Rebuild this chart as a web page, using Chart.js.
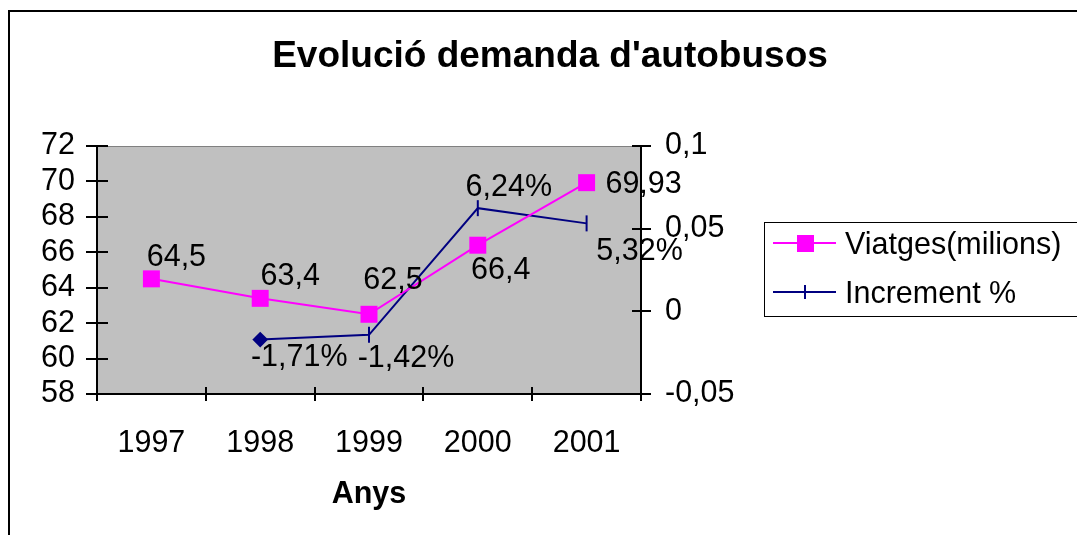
<!DOCTYPE html>
<html>
<head>
<meta charset="utf-8">
<script src="https://cdn.jsdelivr.net/npm/chart.js@4.4.0/dist/chart.umd.min.js"></script>
<style>
  html, body { margin: 0; padding: 0; background: #fff; }
  canvas { display: block; }
</style>
</head>
<body>
<canvas id="chart" width="1077" height="535"></canvas>
<script>
const years = ['1997', '1998', '1999', '2000', '2001'];
const viatges = [64.5, 63.4, 62.5, 66.4, 69.93];
const increment = [null, -0.0171, -0.0142, 0.0624, 0.0532];
const leftTicks = [58, 60, 62, 64, 66, 68, 70, 72];
const rightTicks = [-0.05, 0, 0.05, 0.1];
const rightTickLabels = ['-0,05', '0', '0,05', '0,1'];

const FONT = '"Liberation Sans", Arial, sans-serif';
const FS = 30.5;
const MAGENTA = '#FF00FF';
const NAVY = '#000080';

// label offsets from each point (px)
const viatgesLabelPos = [[25, -21], [30, -22], [24, -34], [23, 25], [57, 2]];
const incrementLabelPos = [null, [39, 18], [37, 24], [31, -21], [53, 28]];

const fmtViatges = v => String(v).replace('.', ',');
const fmtIncrement = v => (v * 100).toFixed(2).replace('.', ',') + '%';

const frame = {
  id: 'frame',
  beforeDraw(chart) {
    const ctx = chart.ctx, ca = chart.chartArea;
    ctx.save();
    ctx.fillStyle = '#fff';
    ctx.fillRect(0, 0, chart.width, chart.height);
    // outer chart border
    ctx.strokeStyle = '#000';
    ctx.lineWidth = 2;
    ctx.beginPath();
    ctx.moveTo(9, chart.height);
    ctx.lineTo(9, 11);
    ctx.lineTo(chart.width, 11);
    ctx.stroke();
    // plot area
    ctx.fillStyle = '#C0C0C0';
    ctx.fillRect(ca.left, ca.top, ca.right - ca.left, ca.bottom - ca.top);
    ctx.strokeStyle = '#808080';
    ctx.lineWidth = 1;
    ctx.strokeRect(ca.left + 0.5, ca.top + 0.5, ca.right - ca.left - 1, ca.bottom - ca.top - 1);
    // title
    ctx.fillStyle = '#000';
    ctx.font = 'bold 37px ' + FONT;
    ctx.textAlign = 'center';
    ctx.textBaseline = 'middle';
    ctx.fillText("Evolució demanda d'autobusos", 550, 57);
    ctx.restore();
  },
  afterDraw(chart) {
    const ctx = chart.ctx, ca = chart.chartArea;
    const x = chart.scales.x, y = chart.scales.y, y1 = chart.scales.y1;
    ctx.save();
    ctx.strokeStyle = '#000';
    ctx.lineWidth = 2;
    ctx.beginPath();
    y.ticks.forEach(t => {
      const py = Math.round(y.getPixelForValue(t.value));
      ctx.moveTo(ca.left - 11, py); ctx.lineTo(ca.left + 11, py);
    });
    y1.ticks.forEach(t => {
      const py = Math.round(y1.getPixelForValue(t.value));
      ctx.moveTo(ca.right - 9, py); ctx.lineTo(ca.right + 10, py);
    });
    for (let i = 0; i <= years.length; i++) {
      const px = Math.round(x.getPixelForValue(i - 0.5));
      ctx.moveTo(px, ca.bottom - 7); ctx.lineTo(px, ca.bottom + 7);
    }
    ctx.stroke();

    // legend
    ctx.lineWidth = 1;
    ctx.strokeRect(764.5, 222.5, 400, 94);
    const ds = chart.data.datasets;
    const rows = [243, 292];
    ctx.font = FS + 'px ' + FONT;
    ctx.textAlign = 'left';
    ctx.textBaseline = 'middle';
    ds.forEach((d, i) => {
      const ly = rows[i];
      ctx.strokeStyle = d.borderColor;
      ctx.lineWidth = 2;
      ctx.beginPath();
      ctx.moveTo(773, ly); ctx.lineTo(836, ly);
      ctx.stroke();
      if (i === 0) {
        ctx.fillStyle = d.borderColor;
        ctx.fillRect(797, ly - 8, 17, 17);
      } else {
        ctx.beginPath();
        ctx.moveTo(805, ly - 7); ctx.lineTo(805, ly + 7);
        ctx.stroke();
      }
      ctx.fillStyle = '#000';
      ctx.fillText(d.label, 845, ly + 3);
    });
    ctx.restore();
  }
};

const dataLabels = {
  id: 'dataLabels',
  afterDatasetsDraw(chart) {
    const ctx = chart.ctx;
    ctx.save();
    ctx.font = FS + 'px ' + FONT;
    ctx.fillStyle = '#000';
    ctx.textAlign = 'center';
    ctx.textBaseline = 'middle';
    const sets = [[viatges, viatgesLabelPos, fmtViatges], [increment, incrementLabelPos, fmtIncrement]];
    sets.forEach(([vals, pos, fmt], di) => {
      const meta = chart.getDatasetMeta(di);
      vals.forEach((v, i) => {
        if (v === null || !pos[i]) return;
        const el = meta.data[i];
        ctx.fillText(fmt(v), el.x + pos[i][0], el.y + pos[i][1]);
      });
    });
    ctx.restore();
  }
};

const tickFont = { family: FONT, size: FS };

new Chart(document.getElementById('chart'), {
  type: 'line',
  data: {
    labels: years,
    datasets: [
      {
        label: 'Viatges(milions)',
        data: viatges,
        yAxisID: 'y',
        borderColor: MAGENTA,
        backgroundColor: MAGENTA,
        borderWidth: 2,
        pointStyle: 'rect',
        pointRadius: 12,
        pointBorderWidth: 0,
        tension: 0
      },
      {
        label: 'Increment %',
        data: increment,
        yAxisID: 'y1',
        borderColor: NAVY,
        backgroundColor: NAVY,
        borderWidth: 2,
        pointStyle: ['line', 'rectRot', 'line', 'line', 'line'],
        pointRotation: [90, 0, 90, 90, 90],
        pointRadius: [0, 6.5, 8, 8, 8],
        pointBorderWidth: 2,
        tension: 0
      }
    ]
  },
  options: {
    responsive: false,
    animation: false,
    layout: { padding: { left: 0, right: 0, top: 146, bottom: 0 } },
    plugins: {
      legend: { display: false },
      title: { display: false },
      tooltip: { enabled: false }
    },
    scales: {
      x: {
        offset: true,
        grid: { display: false, drawTicks: false },
        border: { display: true, color: '#000', width: 2 },
        ticks: { color: '#000', font: tickFont, padding: 31, maxRotation: 0, autoSkip: false },
        title: {
          display: true, text: 'Anys', color: '#000',
          font: { family: FONT, size: FS, weight: 'bold' },
          padding: { top: 0, bottom: 22 }
        },
        afterFit: s => { s.height = 141; }
      },
      y: {
        position: 'left',
        min: 58, max: 72,
        grid: { display: false, drawTicks: false },
        border: { display: true, color: '#000', width: 2 },
        ticks: { color: '#000', font: tickFont, padding: 22, autoSkip: false },
        afterBuildTicks: s => { s.ticks = leftTicks.map(v => ({ value: v })); },
        afterFit: s => { s.width = 97; }
      },
      y1: {
        position: 'right',
        min: -0.05, max: 0.1,
        grid: { display: false, drawTicks: false },
        border: { display: true, color: '#000', width: 2 },
        ticks: {
          color: '#000', font: tickFont, padding: 24, autoSkip: false,
          callback: (v, i) => rightTickLabels[i]
        },
        afterBuildTicks: s => { s.ticks = rightTicks.map(v => ({ value: v })); },
        afterFit: s => { s.width = 436; }
      }
    }
  },
  plugins: [frame, dataLabels]
});
</script>
</body>
</html>
